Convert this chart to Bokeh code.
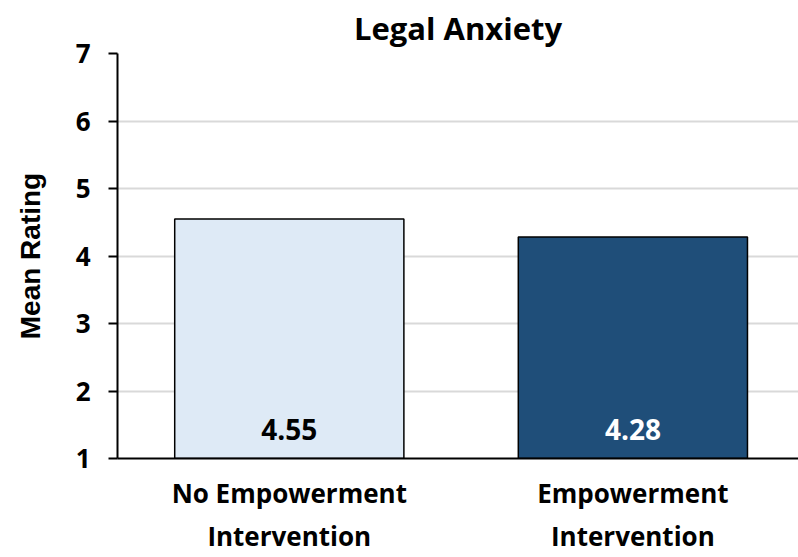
from bokeh.plotting import figure
from bokeh.models import ColumnDataSource, Range1d, FixedTicker
from bokeh.core.properties import value
from bokeh.embed import file_html
from bokeh.resources import INLINE

categories = ["No Empowerment\nIntervention", "Empowerment\nIntervention"]
means = [4.55, 4.28]
labels = ["4.55", "4.28"]
fill_colors = ["#DEEAF6", "#1F4E79"]
label_colors = ["#000000", "#FFFFFF"]
y_ticks = [1, 2, 3, 4, 5, 6, 7]

FONT = "Open Sans"

xpos = [i + 0.5 for i in range(len(categories))]
src = ColumnDataSource(dict(x=xpos, top=means, label=labels,
                            fill=fill_colors, tcol=label_colors))

p = figure(width=798, height=557, x_range=Range1d(0, 1.982),
           y_range=Range1d(1, 7), output_backend="svg", toolbar_location=None,
           min_border_left=117, min_border_right=0, min_border_top=53,
           min_border_bottom=99, outline_line_color=None)

p.title.text = "Legal Anxiety"
p.title.align = "center"
p.title.text_font = FONT
p.title.text_font_size = "31px"
p.title.text_font_style = "bold"
p.title.text_color = "#000000"
p.title.standoff = 9

p.vbar(x="x", top="top", bottom=1, width=0.667, source=src,
       fill_color="fill", line_color="#000000", line_width=1.5)

p.text(x="x", y=1, text="label", source=src, text_color="tcol",
       text_font=value(FONT), text_font_size="28px", text_font_style="bold",
       text_align="center", text_baseline="middle", y_offset=-29)

p.xgrid.grid_line_color = None
p.ygrid.grid_line_color = "#D9D9D9"
p.ygrid.grid_line_width = 2
p.yaxis.ticker = FixedTicker(ticks=y_ticks)

p.yaxis.axis_label = "Mean Rating"
p.yaxis.axis_label_text_font = "Liberation Sans"
p.yaxis.axis_label_text_font_size = "28px"
p.yaxis.axis_label_text_font_style = "bold"
p.yaxis.axis_label_text_color = "#000000"
p.yaxis.axis_label_standoff = 27
p.yaxis.major_label_text_font = FONT
p.yaxis.major_label_text_font_size = "26px"
p.yaxis.major_label_text_font_style = "bold"
p.yaxis.major_label_text_color = "#000000"
p.yaxis.major_label_standoff = 18
p.yaxis.major_tick_out = 9
p.yaxis.major_tick_in = 0
p.yaxis.minor_tick_line_color = None
p.yaxis.axis_line_color = "#000000"
p.yaxis.axis_line_width = 2
p.yaxis.major_tick_line_color = "#000000"
p.yaxis.major_tick_line_width = 2

p.xaxis.ticker = FixedTicker(ticks=xpos)
p.xaxis.major_label_overrides = {x: c for x, c in zip(xpos, categories)}
p.xaxis.major_label_text_font = FONT
p.xaxis.major_label_text_font_size = "26px"
p.xaxis.major_label_text_font_style = "bold"
p.xaxis.major_label_text_color = "#000000"
p.xaxis.major_label_standoff = 10
p.xaxis.major_tick_line_color = None
p.xaxis.minor_tick_line_color = None
p.xaxis.axis_line_color = "#000000"
p.xaxis.axis_line_width = 2

open("out.html", "w").write(file_html(p, INLINE))
